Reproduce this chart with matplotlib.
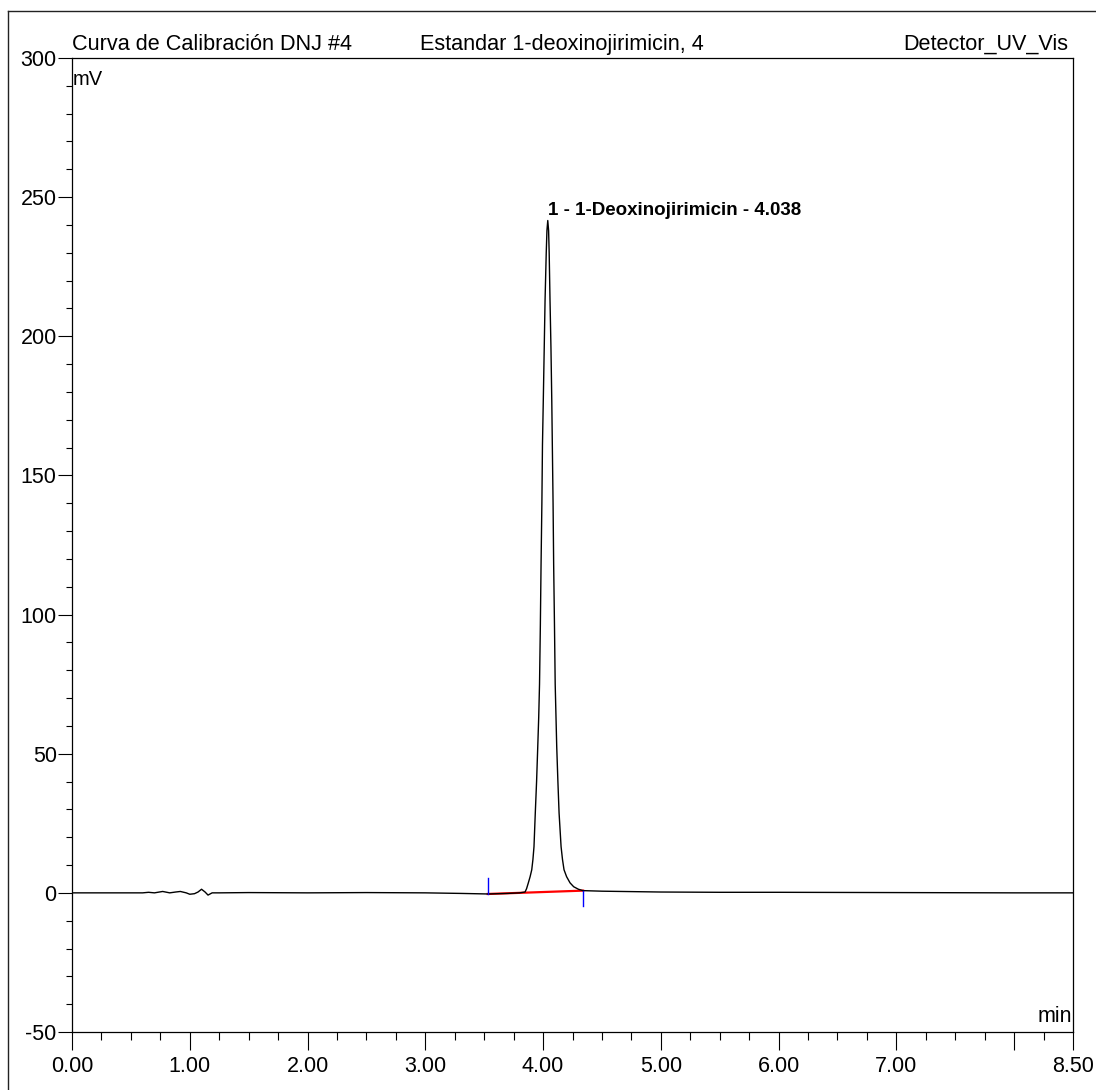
import numpy as np
import matplotlib
matplotlib.use('Agg')
import matplotlib.pyplot as plt
from matplotlib.ticker import FixedLocator, FixedFormatter, MultipleLocator
from matplotlib.lines import Line2D

plt.rcParams['font.family'] = ['Liberation Sans', 'DejaVu Sans']
plt.rcParams['axes.unicode_minus'] = False

# chromatogram (min, mV)
time_min = [0.00, 0.30, 0.60, 0.65, 0.70, 0.77, 0.83, 0.88, 0.92, 0.97, 1.00, 1.04,
            1.07, 1.10, 1.13, 1.155, 1.19, 1.25, 1.50, 2.00, 2.50, 3.00, 3.30, 3.53,
            3.70, 3.80, 3.847, 3.860, 3.875, 3.890, 3.904, 3.914, 3.923, 3.934, 3.945,
            3.955, 3.963, 3.970, 3.977, 3.983, 3.990, 3.995, 4.002, 4.010, 4.017,
            4.027, 4.033, 4.040, 4.047, 4.052, 4.059, 4.067, 4.074, 4.079, 4.085,
            4.090, 4.097, 4.103, 4.116, 4.126, 4.136, 4.153, 4.165, 4.178, 4.200,
            4.229, 4.260, 4.300, 4.339, 4.50, 5.00, 5.50, 6.00, 7.00, 8.00, 8.50]
signal_mv = [0.0, 0.0, 0.0, 0.2, 0.0, 0.5, 0.0, 0.3, 0.5, 0.0, -0.5, -0.3,
             0.3, 1.3, 0.3, -0.8, 0.0, 0.0, 0.1, 0.0, 0.1, 0.0, -0.2, -0.4,
             -0.2, 0.0, 0.3, 1.5, 3.6, 5.8, 8.3, 12.0, 16.6, 28.7, 40.0,
             52.6, 63.0, 75.0, 96.0, 118.0, 140.0, 161.0, 177.0, 196.0, 213.0,
             230.0, 238.0, 241.6, 238.0, 230.0, 213.0, 196.0, 177.0, 160.0, 140.0,
             118.0, 96.0, 75.0, 52.6, 40.0, 28.7, 16.6, 12.0, 8.3, 5.8,
             3.6, 2.2, 1.3, 0.8, 0.6, 0.3, 0.2, 0.2, 0.1, 0.0, 0.0]

# integration baseline and peak delimiters
base_t = [3.53, 4.34]
base_mv = [-0.4, 0.8]
marker_top = [5.4, 0.8]
marker_bot = [-0.4, -4.7]

peak_name = "1 - 1-Deoxinojirimicin - 4.038"
peak_t = 4.038
peak_mv = 241.6

x_major = [0, 1, 2, 3, 4, 5, 6, 7, 8, 8.5]
x_labels = ['0.00', '1.00', '2.00', '3.00', '4.00', '5.00', '6.00', '7.00', '', '8.50']

fig = plt.figure(figsize=(10.96, 10.90), dpi=100)
W, H = 1096, 1090
ax = fig.add_axes([72 / W, 1 - 1032 / H, (1073 - 72) / W, (1032 - 58) / H])

ax.plot(time_min, signal_mv, color='black', lw=1.0, zorder=3)
ax.plot(base_t, base_mv, color='red', lw=1.6, zorder=2)
for t, top, bot in zip(base_t, marker_top, marker_bot):
    ax.plot([t, t], [bot, top], color='blue', lw=1.0, zorder=4)

ax.set_xlim(0, 8.5)
ax.set_ylim(-50, 300)

ax.xaxis.set_major_locator(FixedLocator(x_major))
ax.xaxis.set_major_formatter(FixedFormatter(x_labels))
ax.xaxis.set_minor_locator(MultipleLocator(0.25))
ax.yaxis.set_major_locator(MultipleLocator(50))
ax.yaxis.set_minor_locator(MultipleLocator(10))

ax.tick_params(axis='x', which='major', direction='out', length=13, width=0.8,
               labelsize=15.5, pad=4)
ax.tick_params(axis='x', which='minor', direction='out', length=5.5, width=0.8)
ax.tick_params(axis='y', which='major', direction='out', length=10, width=0.8,
               labelsize=15.5, pad=1)
ax.tick_params(axis='y', which='minor', direction='out', length=4.3, width=0.8)
for s in ax.spines.values():
    s.set_linewidth(0.9)

ax.text(0.001, 0.978, 'mV', transform=ax.transAxes, fontsize=14.5,
        ha='left', va='center')
ax.text(0.999, 0.0164, 'min', transform=ax.transAxes, fontsize=15.5,
        ha='right', va='center')
ax.text(peak_t, peak_mv + 2, peak_name, fontsize=13.5, fontweight='bold',
        ha='left', va='baseline')

fig.text(72 / W, 1 - 50 / H, 'Curva de Calibración DNJ #4', fontsize=15.6,
         ha='left', va='baseline')
fig.text(420 / W, 1 - 50 / H, 'Estandar 1-deoxinojirimicin, 4', fontsize=15.6,
         ha='left', va='baseline')
fig.text(1068 / W, 1 - 50 / H, 'Detector_UV_Vis', fontsize=15.6,
         ha='right', va='baseline')

# outer frame of the report
fig.add_artist(Line2D([8 / W, 1.0], [1 - 11 / H, 1 - 11 / H], color='#222222', lw=1.0))
fig.add_artist(Line2D([8 / W, 8 / W], [1 - 11 / H, 0.0], color='#222222', lw=1.0))

fig.savefig('out.png', dpi=100)
